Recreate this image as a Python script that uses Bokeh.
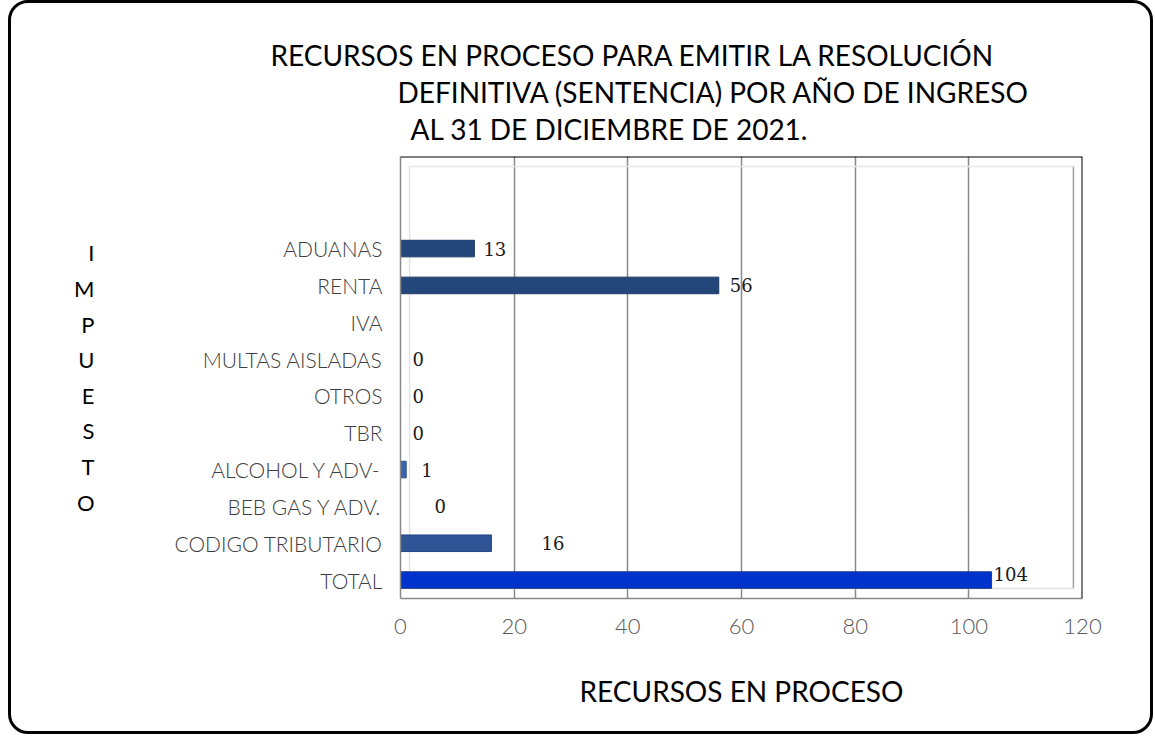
from bokeh.plotting import figure
from bokeh.models import ColumnDataSource, Span, FixedTicker, Title
from bokeh.core.properties import value
from bokeh.embed import file_html
from bokeh.resources import INLINE

# ---------------- data ----------------
categories = ["ADUANAS", "RENTA", "IVA", "MULTAS AISLADAS", "OTROS", "TBR",
              "ALCOHOL Y ADV-", "BEB GAS Y ADV.", "CODIGO TRIBUTARIO", "TOTAL"]
recursos = [13, 56, None, 0, 0, 0, 1, 0, 16, 104]
x_ticks = [0, 20, 40, 60, 80, 100, 120]
title_lines = ["RECURSOS EN PROCESO PARA EMITIR LA RESOLUCIÓN",
               "DEFINITIVA (SENTENCIA) POR AÑO DE INGRESO",
               "AL 31 DE DICIEMBRE DE 2021."]
y_axis_title = "IMPUESTO"
x_axis_title = "RECURSOS EN PROCESO"

# ---------------- styles ----------------
bar_colors = ["#23477a", "#23477a", "#23477a", "#2f5597", "#2f5597", "#2f5597",
              "#3a66b0", "#2f5597", "#2f5597", "#0033cc"]
bar_lines = ["#1c3a66", "#1c3a66", "#1c3a66", "#244683", "#244683", "#244683",
             "#2a4f8f", "#244683", "#244683", "#1f3a8a"]
label_dx = [9, 11, 0, 12, 12, 12, 15, 34, 50, 2]
label_dy = [0, 0, 0, 0, 0, 0, 0, 0, 0, -6]
title_dx = [-130, -3, 10]
title_standoff = [1, 1, 0]
LIGHT = "Lato Light"
TITLE_FONT = "Lato"

n = len(categories)
ypos = [n - 1 - i for i in range(n)]
xs = [float("nan") if v is None else v for v in recursos]
labels = ["" if v is None else str(v) for v in recursos]

src = ColumnDataSource(dict(y=ypos, x=xs, label=labels, color=bar_colors,
                            line=bar_lines, dx=label_dx, dy=label_dy))

x_lo, x_hi = x_ticks[0], x_ticks[-1]
y_lo, y_hi = -0.5, n + 1.5

p = figure(width=1145, height=734, x_range=(x_lo, x_hi), y_range=(y_lo, y_hi),
           output_backend="svg", toolbar_location=None,
           min_border_left=389, min_border_right=74,
           min_border_top=153, min_border_bottom=139)
p.styles = {"border": "3px solid #000000", "border-radius": "20px",
            "overflow": "hidden", "margin-left": "8px"}
p.border_fill_color = None
p.background_fill_color = "white"
p.outline_line_color = None

# title: three lines; p.title is the outermost, later Titles sit nearer the frame
p.title.text = title_lines[0]
p.title.align = "left"
p.title.offset = title_dx[0]
p.title.text_font = TITLE_FONT
p.title.text_font_size = "28px"
p.title.text_font_style = "normal"
p.title.text_color = "#000000"
p.title.standoff = title_standoff[0]
# small blank spacer between the frame and the last title line
p.add_layout(Title(text=" ", text_font_size="2px", standoff=7), "above")
for i in (2, 1):
    p.add_layout(Title(text=title_lines[i], align="left", offset=title_dx[i],
                       text_font=TITLE_FONT, text_font_size="28px",
                       text_font_style="normal", text_color="#000000",
                       standoff=title_standoff[i]), "above")

# axes
p.xaxis.ticker = FixedTicker(ticks=x_ticks)
p.xaxis.major_tick_line_color = None
p.xaxis.minor_tick_line_color = None
p.xaxis.axis_line_color = "#898989"
p.xaxis.axis_line_width = 1.5
p.xaxis.major_label_text_font = LIGHT
p.xaxis.major_label_text_font_size = "22px"
p.xaxis.major_label_text_color = "#595959"
p.xaxis.major_label_standoff = 14
p.xaxis.axis_label = x_axis_title
p.xaxis.axis_label_text_font = TITLE_FONT
p.xaxis.axis_label_text_font_style = "normal"
p.xaxis.axis_label_text_font_size = "28px"
p.xaxis.axis_label_text_color = "#000000"
p.xaxis.axis_label_standoff = 37

p.yaxis.ticker = FixedTicker(ticks=ypos)
p.yaxis.major_label_overrides = {ypos[i]: categories[i] for i in range(n)}
p.yaxis.major_tick_line_color = None
p.yaxis.minor_tick_line_color = None
p.yaxis.axis_line_color = "#898989"
p.yaxis.axis_line_width = 1.5
p.yaxis.major_label_text_font = LIGHT
p.yaxis.major_label_text_font_size = "21px"
p.yaxis.major_label_text_color = "#404040"
p.yaxis.major_label_standoff = 12
p.yaxis.axis_label = "\n".join(y_axis_title)
p.yaxis.axis_label_orientation = "horizontal"
p.yaxis.axis_label_text_font = "Lato"
p.yaxis.axis_label_text_font_style = "normal"
p.yaxis.axis_label_text_font_size = "22px"
p.yaxis.axis_label_text_color = "#000000"
p.yaxis.axis_label_text_line_height = 1.32
p.yaxis.axis_label_text_align = "center"
p.yaxis.axis_label_standoff = 77

# grid
p.xgrid.ticker = FixedTicker(ticks=x_ticks[1:-1])
p.xgrid.grid_line_color = "#898989"
p.xgrid.grid_line_width = 1.5
p.ygrid.grid_line_color = None

# back-wall decoration (3-D depth)
dx_w, dy_w = 1.6, 0.27
p.segment(x0=[x_hi - dx_w, dx_w, dx_w, dx_w], y0=[y_lo + dy_w, y_lo + dy_w, y_hi - dy_w, y_lo + dy_w],
          x1=[x_hi - dx_w, dx_w, x_hi - dx_w, x_hi - dx_w], y1=[y_hi - dy_w, y_hi - dy_w, y_hi - dy_w, y_lo + dy_w],
          line_color=["#a0a0a0", "#e2e2e2", "#e8e8e8", "#e2e2e2"], line_width=1.5)

# frame top/right
p.add_layout(Span(location=x_hi, dimension="height", line_color="black", line_width=2))
p.add_layout(Span(location=y_hi, dimension="width", line_color="black", line_width=2))

# bars
p.hbar(y="y", right="x", left=0, height=0.45, fill_color="color",
       line_color="line", line_width=1, source=src)

# value labels
p.text(x="x", y="y", text="label", x_offset="dx", y_offset="dy",
       text_font=value("DejaVu Serif"), text_font_size="18px",
       text_baseline="middle", text_align="left", text_color="#1a1a1a", source=src)

open("out.html", "w").write(file_html(p, INLINE))
